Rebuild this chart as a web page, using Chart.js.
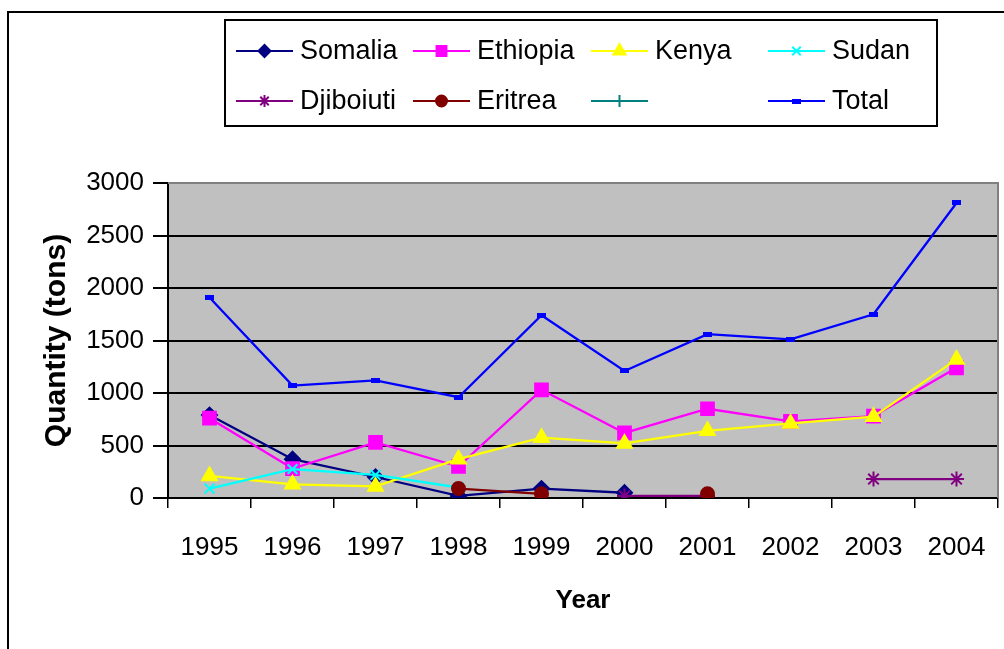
<!DOCTYPE html>
<html>
<head>
<meta charset="utf-8">
<script src="https://cdn.jsdelivr.net/npm/chart.js@4"></script>
<style>
  body { margin: 0; background: #fff; }
  #wrap { width: 1004px; height: 649px; }
</style>
</head>
<body>
<div id="wrap"><canvas id="qtyChart" width="1004" height="649"></canvas></div>
<script>
var years = ['1995', '1996', '1997', '1998', '1999', '2000', '2001', '2002', '2003', '2004'];
var somalia   = [790, 370, 200, 20, 90, 50, null, null, null, null];
var ethiopia  = [760, 280, 530, 300, 1030, 620, 850, 730, 780, 1240];
var kenya     = [210, 130, 110, 370, 575, 520, 640, 710, 775, 1320];
var sudan     = [90, 275, 220, 100, null, null, null, null, null, null];
var djibouti  = [null, null, null, null, null, 20, 20, null, 180, 180];
var eritrea   = [null, null, null, 90, 40, null, 40, null, null, null];
var unnamed   = [null, null, null, null, null, null, null, null, null, null];
var total     = [1910, 1070, 1120, 960, 1740, 1210, 1560, 1510, 1750, 2810];
var yTicks    = [0, 500, 1000, 1500, 2000, 2500, 3000];

var FONT = '"Liberation Sans", Arial, sans-serif';

// little flat blue box used as the Total marker
var totalMark = document.createElement('canvas');
totalMark.width = 9;
totalMark.height = 5;
var tm = totalMark.getContext('2d');
tm.fillStyle = '#0000ff';
tm.fillRect(0, 0, 9, 5);

function series(label, data, color, style, radius, legendRadius) {
  return {
    label: label,
    data: data,
    borderColor: color,
    backgroundColor: color,
    pointBackgroundColor: color,
    pointBorderColor: color,
    pointStyle: style,
    pointRadius: radius,
    pointBorderWidth: 2,
    borderWidth: 2.3,
    tension: 0,
    fill: false,
    spanGaps: false,
    legendRadius: legendRadius
  };
}

var sets = [
  series('Somalia', somalia, '#000080', 'rectRot', 7.5, 6),
  series('Ethiopia', ethiopia, '#ff00ff', 'rect', 9, 7),
  series('Kenya', kenya, '#ffff00', 'triangle', 8.5, 7),
  series('Sudan', sudan, '#00ffff', 'crossRot', 7, 6),
  series('Djiboiuti', djibouti, '#800080', 'star', 7.5, 6),
  series('Eritrea', eritrea, '#800000', 'circle', 6.5, 5.5),
  series('', unnamed, '#008080', 'cross', 6, 6),
  series('Total', total, '#0000ff', totalMark, 5, 5)
];
// later series sit on top, like the original
sets.forEach(function (d, i) { d.order = sets.length - i; });

var frame = {
  id: 'frame',
  beforeDraw: function (chart) {
    var ctx = chart.ctx, a = chart.chartArea;
    ctx.save();
    ctx.fillStyle = '#ffffff';
    ctx.fillRect(0, 0, chart.width, chart.height);
    ctx.strokeStyle = '#000';
    ctx.lineWidth = 2;
    ctx.strokeRect(8, 12, 1100, 700);
    ctx.fillStyle = '#c0c0c0';
    ctx.fillRect(a.left, a.top, a.right - a.left, a.bottom - a.top);
    ctx.restore();
  },
  beforeDatasetsDraw: function (chart) {
    var ctx = chart.ctx, a = chart.chartArea;
    ctx.save();
    ctx.strokeStyle = '#808080';
    ctx.lineWidth = 2;
    ctx.beginPath();
    ctx.moveTo(a.left, a.top);
    ctx.lineTo(a.right, a.top);
    ctx.lineTo(a.right, a.bottom);
    ctx.stroke();
    ctx.restore();
  },
  afterDraw: function (chart) {
    var ctx = chart.ctx;
    ctx.save();
    ctx.strokeStyle = '#000';
    ctx.lineWidth = 2;
    ctx.strokeRect(225, 20, 712, 106);
    var cols = [236, 413, 591, 768];
    var rows = [51, 101];
    chart.data.datasets.forEach(function (d, i) {
      var x = cols[i % 4], y = rows[Math.floor(i / 4)];
      ctx.strokeStyle = d.borderColor;
      ctx.lineWidth = 2;
      ctx.beginPath();
      ctx.moveTo(x, y);
      ctx.lineTo(x + 57, y);
      ctx.stroke();
      ctx.fillStyle = d.borderColor;
      Chart.helpers.drawPoint(ctx, {
        pointStyle: d.pointStyle,
        radius: d.legendRadius,
        rotation: 0,
        borderWidth: 2
      }, x + 28.5, y);
      ctx.fillStyle = '#000';
      ctx.font = '27px ' + FONT;
      ctx.textBaseline = 'middle';
      ctx.textAlign = 'left';
      ctx.fillText(d.label, x + 64, y + 1);
    });
    ctx.restore();
  }
};

var chart = new Chart(document.getElementById('qtyChart'), {
  type: 'line',
  data: { labels: years, datasets: sets },
  options: {
    responsive: false,
    animation: false,
    devicePixelRatio: 1,
    layout: { autoPadding: false, padding: { top: 183, right: 6, left: 0, bottom: 0 } },
    plugins: {
      legend: { display: false },
      tooltip: { enabled: false }
    },
    scales: {
      x: {
        offset: true,
        grid: { offset: true, drawOnChartArea: false, drawTicks: true, tickLength: 10, color: '#000', lineWidth: 1.5 },
        border: { color: '#000', width: 2 },
        ticks: { color: '#000', font: { size: 26, family: FONT }, padding: 24, maxRotation: 0, autoSkip: false },
        title: { display: true, text: 'Year', color: '#000', font: { size: 26, weight: 'bold', family: FONT }, padding: { top: 0, bottom: 33 } },
        afterFit: function (s) {
          s.height = 151;
          s.paddingLeft = 0;
          s.paddingRight = 0;
        }
      },
      y: {
        min: 0,
        max: 3000,
        afterBuildTicks: function (s) { s.ticks = yTicks.map(function (v) { return { value: v }; }); },
        grid: {
          color: function (c) { return c.tick && c.tick.value === 3000 ? '#808080' : '#000'; },
          tickColor: '#000',
          lineWidth: 2,
          tickLength: 15
        },
        border: { color: '#000', width: 2 },
        ticks: {
          color: '#000',
          font: { size: 26, family: FONT },
          padding: 9,
          callback: function (v) { return String(v); }
        },
        title: { display: true, text: 'Quantity (tons)', color: '#000', font: { size: 30, weight: 'bold', family: FONT }, padding: { top: 39, bottom: 0 } },
        afterFit: function (s) {
          s.width = 168;
          s.paddingTop = 0;
          s.paddingBottom = 0;
        }
      }
    }
  },
  plugins: [frame]
});
</script>
</body>
</html>
